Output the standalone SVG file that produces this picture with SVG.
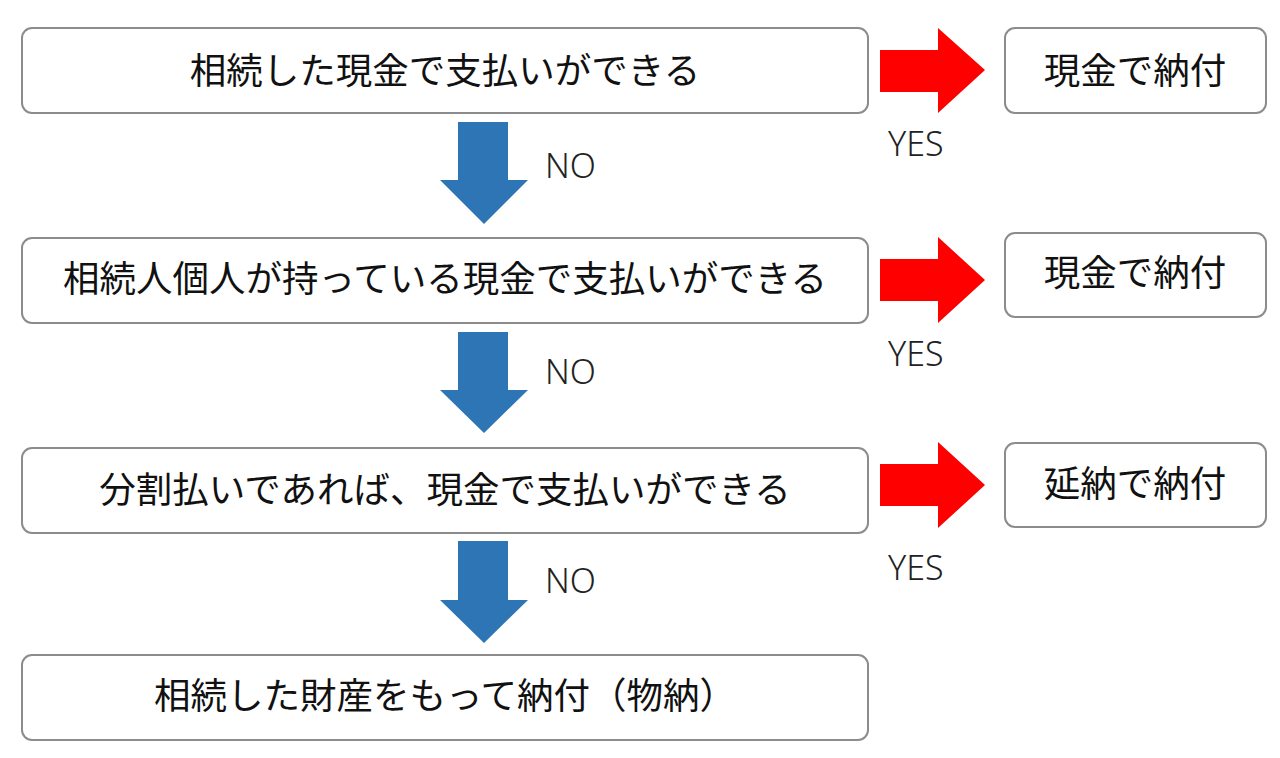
<svg xmlns="http://www.w3.org/2000/svg" width="1280" height="758" viewBox="0 0 1280 758">
<style>
.box{fill:#fff;stroke:#8c8c8c;stroke-width:2}
.t{font-family:"Noto Sans CJK JP","Noto Sans",sans-serif;font-size:36.5px;fill:#111;text-anchor:middle;dominant-baseline:central}
.l{font-family:"Noto Sans","Liberation Sans",sans-serif;font-size:34px;font-weight:300;fill:#222}
.red{fill:#ff0000}
.blue{fill:#2e75b6}
</style>
<rect width="1280" height="758" fill="#fff"/>
<g id="connectors">
<polygon class="red" points="880,50 938,50 938,28 985,70 938,113 938,92 880,92"/>
<polygon class="red" points="880,259 938,259 938,237 985,280 938,323 938,301 880,301"/>
<polygon class="red" points="880,464 938,464 938,442 985,485 938,528 938,506 880,506"/>
<polygon class="blue" points="458,122 508,122 508,180 528,180 484,224 440,180 458,180"/>
<polygon class="blue" points="458,332 508,332 508,390 528,390 484,433 440,390 458,390"/>
<polygon class="blue" points="458,541 508,541 508,600 528,600 484,643 440,600 458,600"/>
<text class="l" x="888" y="156">YES</text>
<text class="l" x="888" y="366">YES</text>
<text class="l" x="888" y="580">YES</text>
<text class="l" x="545" y="178">NO</text>
<text class="l" x="545" y="384">NO</text>
<text class="l" x="545" y="593">NO</text>
</g>
<g id="n1"><rect class="box" x="22" y="28" width="846" height="85" rx="10"/><text class="t" x="445" y="68">相続した現金で支払いができる</text></g>
<g id="n2"><rect class="box" x="22" y="238" width="846" height="85" rx="10"/><text class="t" x="445" y="276">相続人個人が持っている現金で支払いができる</text></g>
<g id="n3"><rect class="box" x="22" y="448" width="846" height="85" rx="10"/><text class="t" x="445" y="487">分割払いであれば、現金で支払いができる</text></g>
<g id="n4"><rect class="box" x="22" y="655" width="846" height="85" rx="10"/><text class="t" x="445" y="693">相続した財産をもって納付（物納）</text></g>
<g id="r1"><rect class="box" x="1005" y="28" width="261" height="85" rx="10"/><text class="t" x="1135" y="68">現金で納付</text></g>
<g id="r2"><rect class="box" x="1005" y="233" width="261" height="84" rx="10"/><text class="t" x="1135" y="270">現金で納付</text></g>
<g id="r3"><rect class="box" x="1005" y="443" width="261" height="84" rx="10"/><text class="t" x="1135" y="481">延納で納付</text></g>
</svg>
